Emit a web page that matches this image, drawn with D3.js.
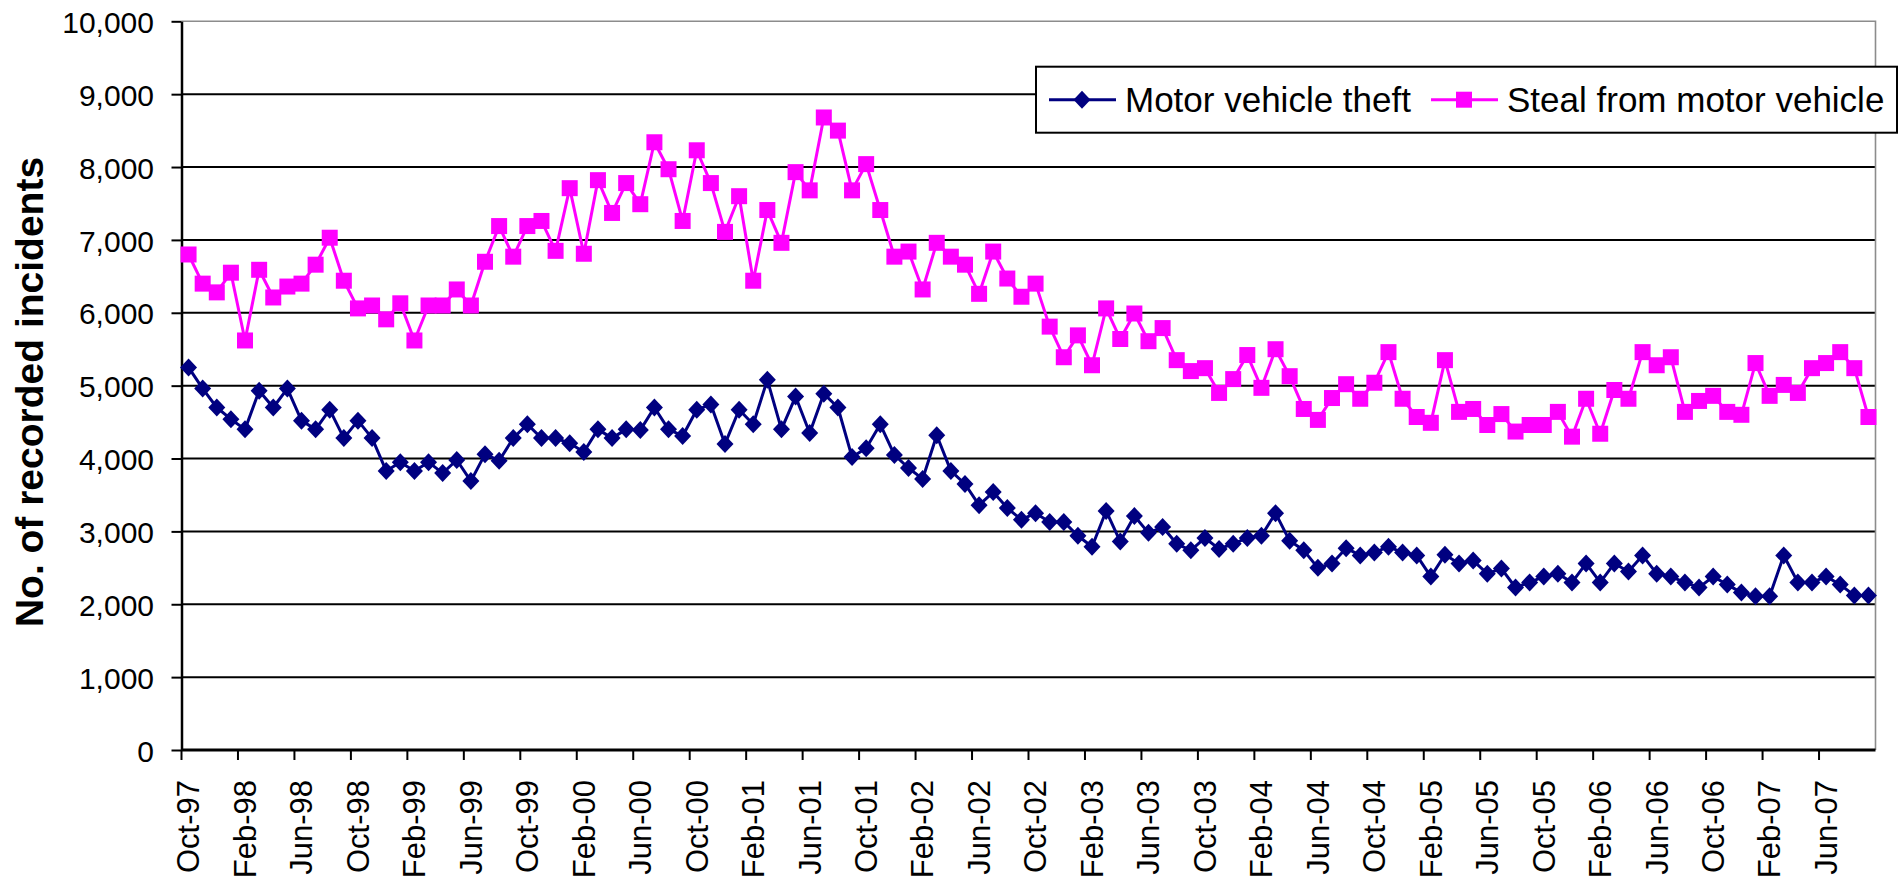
<!DOCTYPE html>
<html>
<head>
<meta charset="utf-8">
<script src="https://cdnjs.cloudflare.com/ajax/libs/d3/7.8.5/d3.min.js"></script>
<style>
    html, body { margin: 0; padding: 0; background: #fff; }
    #vehicle-crime { width: 1900px; height: 885px; }
    text { font-family: "Liberation Sans", Arial, sans-serif; fill: #000; }
</style>
</head>
<body>
<div id="vehicle-crime"></div>
<script>
// monthly categories run Oct-97 .. Sep-07
const FIRST_MONTH = new Date(1997, 9, 1);
const END_MONTH = new Date(2007, 9, 1);

const tickLabels = ['Oct-97', 'Feb-98', 'Jun-98', 'Oct-98', 'Feb-99', 'Jun-99', 'Oct-99', 'Feb-00',
    'Jun-00', 'Oct-00', 'Feb-01', 'Jun-01', 'Oct-01', 'Feb-02', 'Jun-02', 'Oct-02', 'Feb-03', 'Jun-03',
    'Oct-03', 'Feb-04', 'Jun-04', 'Oct-04', 'Feb-05', 'Jun-05', 'Oct-05', 'Feb-06', 'Jun-06', 'Oct-06',
    'Feb-07', 'Jun-07'];

const yTicks = [0, 1000, 2000, 3000, 4000, 5000, 6000, 7000, 8000, 9000, 10000];

const seriesNames = ['Motor vehicle theft', 'Steal from motor vehicle'];

const theftValues = [
    5250, 4960, 4700, 4540, 4400, 4930, 4700, 4960, 4520, 4400, 4670, 4280, 4520, 4280, 3830, 3950, 3830, 3950, 3800, 3980,
    3690, 4060, 3970, 4280, 4470, 4280, 4280, 4210, 4090, 4400, 4280, 4400, 4390, 4700, 4400, 4310, 4670, 4740, 4200, 4670,
    4470, 5080, 4400, 4850, 4350, 4890, 4700, 4020, 4140, 4470, 4050, 3870, 3720, 4320, 3830, 3650, 3360, 3540, 3320, 3160,
    3250, 3130, 3130, 2940, 2790, 3280, 2860, 3210, 2980, 3060, 2830, 2740, 2910, 2760, 2830, 2910, 2940, 3250, 2870, 2740,
    2500, 2560, 2770, 2670, 2710, 2790, 2710, 2670, 2380, 2680, 2560, 2600, 2420, 2490, 2230, 2300, 2380, 2420, 2300, 2560,
    2300, 2560, 2450, 2670, 2420, 2380, 2300, 2230, 2380, 2270, 2160, 2110, 2110, 2670, 2300, 2300, 2380, 2270, 2120, 2120
];

const stealValues = [
    6800, 6400, 6280, 6550, 5620, 6590, 6210, 6360, 6400, 6660, 7030, 6440, 6060, 6100, 5910, 6130, 5620, 6100, 6100, 6320,
    6100, 6700, 7190, 6770, 7190, 7260, 6850, 7710, 6810, 7820, 7370, 7780, 7490, 8340, 7970, 7260, 8230, 7780, 7110, 7600,
    6440, 7410, 6960, 7930, 7680, 8680, 8500, 7680, 8040, 7410, 6770, 6840, 6320, 6960, 6770, 6660, 6260, 6840, 6470, 6220,
    6400, 5810, 5390, 5690, 5280, 6060, 5640, 5990, 5610, 5790, 5350, 5200, 5240, 4900, 5090, 5420, 4970, 5500, 5130, 4680,
    4530, 4830, 5020, 4820, 5040, 5460, 4820, 4570, 4490, 5350, 4640, 4680, 4460, 4610, 4370, 4460, 4460, 4640, 4300, 4820,
    4340, 4940, 4820, 5460, 5280, 5390, 4640, 4790, 4860, 4640, 4600, 5310, 4860, 5010, 4900, 5240, 5310, 5460, 5240, 4570
];

(function () {
    'use strict';

    const NAVY = '#000080';
    const MAGENTA = '#ff00ff';

    const chartHolder = d3.select('#vehicle-crime');
    const margin = { top: 21.3, right: 24.5, bottom: 135, left: 181.5 };
    const width = 1900 - margin.left - margin.right;
    const height = 885 - margin.top - margin.bottom;

    const svgRoot = chartHolder.append('svg').attr('width', 1900).attr('height', 885);
    const svg = svgRoot.append('g')
        .attr('transform', 'translate(' + margin.left + ',' + margin.top + ')');

    const months = d3.timeMonth.range(FIRST_MONTH, END_MONTH).map(d3.timeFormat('%b-%y'));

    const xScale = d3.scaleBand().domain(months).range([0, width]).padding(0);
    const yScale = d3.scaleLinear().domain([0, 10000]).range([height, 0]);
    const cx = function (i) { return xScale(months[i]) + xScale.bandwidth() / 2; };

    // horizontal gridlines
    svg.append('g').selectAll('line').data(yTicks.filter(function (d) { return d > 0 && d < 10000; }))
        .enter().append('line')
        .attr('x1', 0).attr('x2', width)
        .attr('y1', yScale).attr('y2', yScale)
        .attr('stroke', '#000').attr('stroke-width', 2);

    // plot area border (top and right)
    svg.append('path')
        .attr('d', 'M0,' + yScale(10000) + 'H' + width + 'V' + height)
        .attr('fill', 'none').attr('stroke', '#8c8c8c').attr('stroke-width', 1.6);

    // y axis
    const yAxis = d3.axisLeft(yScale).tickValues(yTicks).tickSize(10).tickSizeOuter(0)
        .tickPadding(17.5).tickFormat(d3.format(','));
    const yg = svg.append('g').call(yAxis);
    yg.select('.domain').attr('stroke', '#000').attr('stroke-width', 2.5);
    yg.selectAll('.tick line').attr('stroke', '#000').attr('stroke-width', 2);
    yg.selectAll('.tick text').attr('dy', '0.37em').style('font-size', '30px').attr('fill', '#000');

    // x axis: labels at category centres, tick marks on category boundaries
    const xAxis = d3.axisBottom(xScale).tickValues(tickLabels).tickSize(0).tickSizeOuter(0);
    const xg = svg.append('g').attr('transform', 'translate(0,' + height + ')').call(xAxis);
    xg.select('.domain').remove();
    xg.selectAll('.tick text')
        .attr('transform', 'rotate(-90)')
        .attr('x', -30).attr('y', 0).attr('dy', '0.35em')
        .style('text-anchor', 'end').style('font-size', '31px').attr('fill', '#000');

    xg.selectAll('.bound').data(tickLabels).enter().append('line').classed('bound', true)
        .attr('x1', function (d) { return xScale(d); }).attr('x2', function (d) { return xScale(d); })
        .attr('y1', 0).attr('y2', 10)
        .attr('stroke', '#000').attr('stroke-width', 2);

    xg.append('line').attr('x1', 0).attr('x2', width).attr('y1', 0).attr('y2', 0)
        .attr('stroke', '#000').attr('stroke-width', 3);

    // y axis title
    svgRoot.append('text')
        .attr('transform', 'translate(43,392) rotate(-90)')
        .style('text-anchor', 'middle').style('font-size', '39px').style('font-weight', 'bold')
        .text('No. of recorded incidents');

    const line = d3.line()
        .x(function (d, i) { return cx(i); })
        .y(function (d) { return yScale(d); });

    const diamond = 'M0,-9L8.5,0L0,9L-8.5,0Z';
    const square = 'M-8,-8H8V8H-8Z';

    const series = [
        { name: seriesNames[0], values: theftValues, color: NAVY, marker: diamond },
        { name: seriesNames[1], values: stealValues, color: MAGENTA, marker: square }
    ];

    series.forEach(function (s) {
        svg.append('path').datum(s.values)
            .attr('d', line)
            .attr('fill', 'none').attr('stroke', s.color).attr('stroke-width', 3)
            .attr('stroke-linejoin', 'round');

        svg.append('g').selectAll('path').data(s.values)
            .enter().append('path')
            .attr('d', s.marker)
            .attr('fill', s.color)
            .attr('transform', function (d, i) {
                return 'translate(' + cx(i) + ',' + yScale(d) + ')';
            });
    });

    // legend, sitting over the top right of the plot
    const legend = svgRoot.append('g').attr('transform', 'translate(1036,66.7)');
    legend.append('rect').attr('width', 861).attr('height', 66)
        .attr('fill', '#fff').attr('stroke', '#000').attr('stroke-width', 2);

    const legendItems = legend.selectAll('.item').data(series)
        .enter().append('g').classed('item', true)
        .attr('transform', function (d, i) {
            return 'translate(' + (i === 0 ? 13 : 395) + ',33)';
        });

    legendItems.append('line').attr('x1', 0).attr('x2', 67).attr('y1', 0).attr('y2', 0)
        .attr('stroke', function (d) { return d.color; }).attr('stroke-width', 3);
    legendItems.append('path')
        .attr('d', function (d) { return d.marker; })
        .attr('fill', function (d) { return d.color; })
        .attr('transform', 'translate(33,0)');
    legendItems.append('text')
        .attr('x', 76).attr('dy', '0.36em')
        .style('font-size', '35px')
        .text(function (d) { return d.name; });
}());
</script>
</body>
</html>
